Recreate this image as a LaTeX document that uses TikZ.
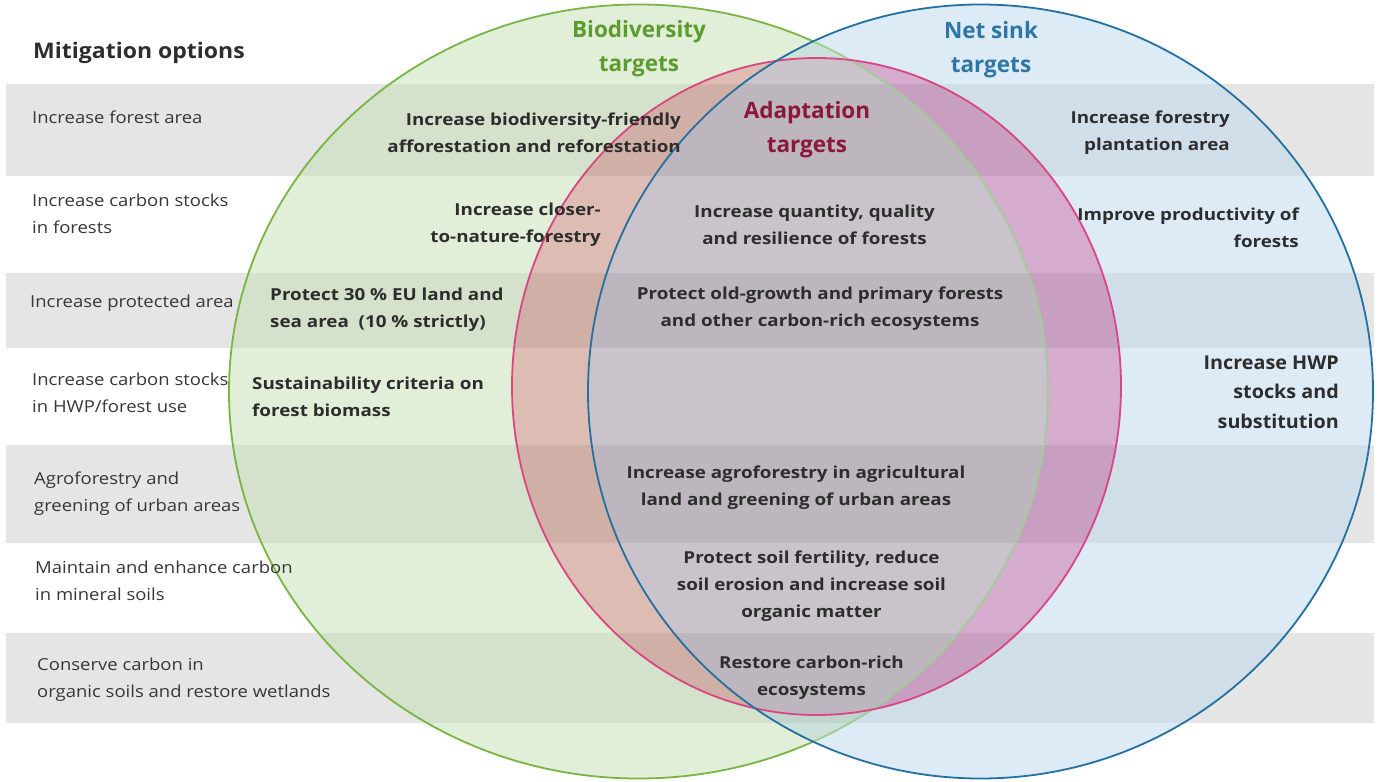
\documentclass[tikz,border=0pt]{standalone}
\usepackage{fontspec}
\setmainfont{Open Sans}
\newfontfamily\labfont[FakeStretch=1.12]{Open Sans}
\newfontfamily\tgtfont[FakeStretch=1.14]{Open Sans}
\newfontfamily\hwpfont[FakeStretch=1.04]{Open Sans}
\newfontfamily\mofont[FakeStretch=1.07]{Open Sans}
\definecolor{bandgrey}{RGB}{229,229,229}
% region colours (composited at 50 % over white / grey bands)
\definecolor{rG}{RGB}{197,225,181}
\definecolor{rB}{RGB}{189,217,239}
\definecolor{rGB}{RGB}{157,197,185}
\definecolor{rPG}{RGB}{189,123,107}
\definecolor{rPB}{RGB}{173,89,159}
\definecolor{rT}{RGB}{151,137,153}
\definecolor{gline}{RGB}{120,181,67}
\definecolor{glinefade}{RGB}{160,205,150}
\definecolor{bline}{RGB}{36,112,160}
\definecolor{pline}{RGB}{218,70,130}
\definecolor{txt}{RGB}{45,45,45}
\definecolor{labtxt}{RGB}{55,55,55}
\definecolor{gtitle}{RGB}{92,155,46}
\definecolor{btitle}{RGB}{46,118,166}
\definecolor{ptitle}{RGB}{138,24,58}
\tikzset{
  band/.style={fill=bandgrey, draw=none},
  lab/.style={font=\labfont\fontsize{16.5}{27}\selectfont, text=labtxt, align=left, anchor=west, inner sep=0pt},
  tgt/.style={font=\tgtfont\bfseries\fontsize{16.5}{27}\selectfont, text=txt, inner sep=0pt},
  ttl/.style={font=\bfseries\fontsize{22.5}{34}\selectfont, inner sep=0pt, align=center},
  ring/.style={line width=1.8pt},
  gell/.style={insert path={(638.5,391.5) ellipse [x radius=409.5pt, y radius=387pt]}},
  bell/.style={insert path={(980.5,391.5) ellipse [x radius=392.5pt, y radius=387pt]}},
  pell/.style={insert path={(816.5,386.5) ellipse [x radius=304.5pt, y radius=328.5pt]}},
}
\begin{document}
\begin{tikzpicture}[x=1pt,y=-1pt]
\useasboundingbox (0,0) rectangle (1380,781);
\fill[white] (0,0) rectangle (1380,781);
% grey bands
\fill[band] (6,84) rectangle (1374,176);
\fill[band] (6,273) rectangle (1374,348);
\fill[band] (6,445) rectangle (1374,543);
\fill[band] (6,633) rectangle (1374,723);
% fills: opaque regions inside one group shown at 50 %
\begin{scope}[transparency group, opacity=0.5]
  \fill[rG, gell];
  \fill[rB, bell];
  \begin{scope}
    \clip[gell];
    \fill[rGB, bell];
  \end{scope}
  \begin{scope}
    \clip[pell];
    \fill[rPG, gell];
    \fill[rPB, bell];
    \clip[gell];
    \fill[rT, bell];
  \end{scope}
\end{scope}
% green outline: full outside the blue set, faded inside it
\begin{scope}[even odd rule]
  \clip (-10,-10) rectangle (1390,791) [bell];
  \draw[ring, gline, gell];
\end{scope}
\begin{scope}
  \clip[bell];
  \draw[ring, glinefade, gell];
\end{scope}
\draw[ring, pline, pell];
\draw[ring, bline, bell];

% titles
\node[font=\mofont\bfseries\fontsize{21.5}{25}\selectfont, text=txt, anchor=west, inner sep=0pt] (mo) at (33,53) {Mitigation options};
\node[ttl, text=gtitle] (bio) at (639,49) {Biodiversity\\targets};
\node[ttl, text=btitle] (net) at (991,50) {Net sink\\targets};
\node[ttl, text=ptitle] (ada) at (807,130) {Adaptation\\targets};

% left labels
\node[lab] (l1) at (32,117) {Increase forest area};
\node[lab] (l2) at (32,214) {Increase carbon stocks\\in forests};
\node[lab] (l3) at (30,303) {Increase protected area};
\node[lab] (l4) at (32,393) {Increase carbon stocks\\in HWP/forest use};
\node[lab] (l5) at (34,494) {Agroforestry and\\greening of urban areas};
\node[lab] (l6) at (35,581) {Maintain and enhance carbon\\in mineral soils};
\node[lab] (l7) at (37,680) {Conserve carbon in\\organic soils and restore wetlands};

% biodiversity side
\node[tgt, align=right, anchor=east] (b1) at (681,133) {Increase biodiversity-friendly\\afforestation and reforestation};
\node[tgt, align=right, anchor=east] (b2) at (601,225) {Increase closer-\\to-nature-forestry};
\node[tgt, align=left, anchor=west] (b3) at (270,310) {Protect 30 \% EU land and\\sea area \ (10 \% strictly)};
\node[tgt, align=left, anchor=west] (b4) at (252,397) {Sustainability criteria on\\forest biomass};

% centre
\node[tgt, align=center] (c1) at (814.5,225) {Increase quantity, quality\\and resilience of forests};
\node[tgt, align=center] (c2) at (820,309) {Protect old-growth and primary forests\\and other carbon-rich ecosystems};
\node[tgt, align=center] (c3) at (796,488) {Increase agroforestry in agricultural\\land and greening of urban areas};
\node[tgt, align=center] (c4) at (811.5,586) {Protect soil fertility, reduce\\soil erosion and increase soil\\organic matter};
\node[tgt, align=center] (c5) at (811.5,678) {Restore carbon-rich\\ecosystems};

% net sink side
\node[tgt, align=right, anchor=east] (n1) at (1230,133) {Increase forestry\\plantation area};
\node[tgt, align=right, anchor=east] (n2) at (1299,228) {Improve productivity of\\forests};
\node[font=\hwpfont\bfseries\fontsize{19}{29.5}\selectfont, text=txt, inner sep=0pt, align=right, anchor=east] (n3) at (1339,392) {Increase HWP\\stocks and\\substitution};
\end{tikzpicture}
\end{document}
